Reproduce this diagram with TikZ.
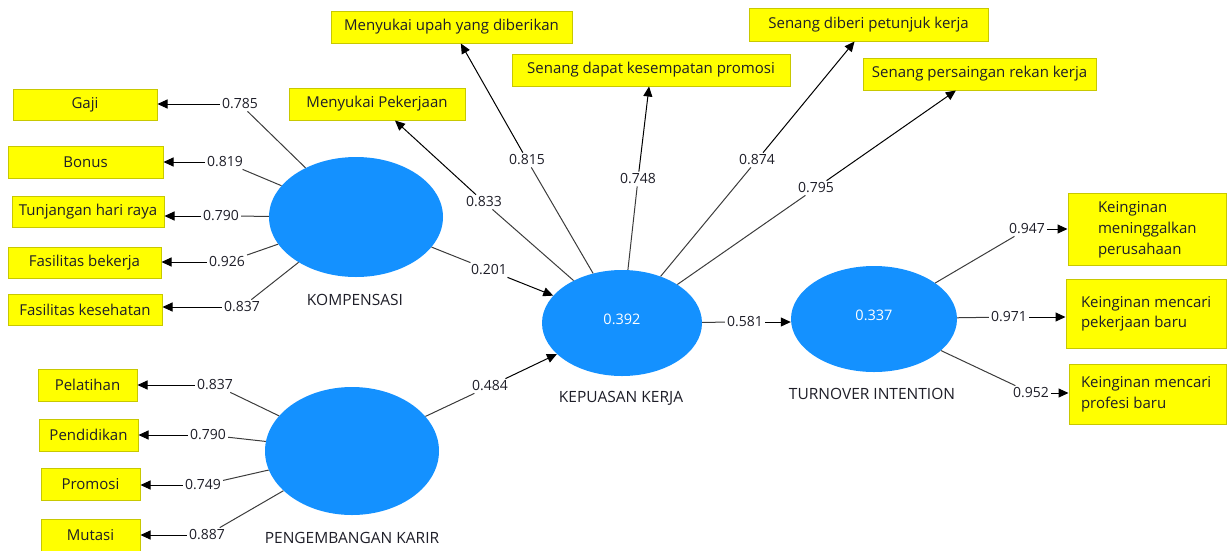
\documentclass[tikz,border=0pt]{standalone}
\usepackage{fontspec}
\setmainfont{Open Sans}
\usetikzlibrary{arrows.meta,shapes.geometric}
\definecolor{boxfill}{RGB}{255,255,0}
\definecolor{boxline}{RGB}{200,200,0}
\definecolor{lvfill}{RGB}{20,145,255}
\definecolor{linecol}{RGB}{60,60,60}
\definecolor{txtcol}{RGB}{30,30,40}
\tikzset{
  box/.style={draw=boxline, fill=boxfill, line width=1pt, inner sep=0pt, text=txtcol, font=\fontsize{15}{18}\selectfont},
  lv/.style={ellipse, fill=lvfill, draw=none, inner sep=0pt, text=white, font=\fontsize{14.5}{17}\selectfont},
  lvname/.style={inner sep=1pt, text=txtcol, font=\fontsize{15.5}{18}\selectfont},
  lab/.style={inner sep=2pt, text=txtcol, font=\fontsize{14}{17}\selectfont},
  ln/.style={draw=linecol, line width=1pt},
  arr/.style={draw=black, line width=1pt, -{Triangle[length=10pt,width=9pt]}}
}
\begin{document}
\begin{tikzpicture}[x=1pt,y=-1pt]
\useasboundingbox (0,0) rectangle (1227,550);
% indicator boxes
\node[box, minimum width=144, minimum height=31] (gaji) at (85,104.5) {Gaji};
\node[box, minimum width=155, minimum height=32] (bonus) at (85.5,162) {Bonus};
\node[box, minimum width=152, minimum height=31] (thr) at (88,211.5) {Tunjangan hari raya};
\node[box, minimum width=153, minimum height=31] (fasb) at (84.5,262.5) {Fasilitas bekerja};
\node[box, minimum width=154, minimum height=31] (fask) at (85,309.5) {Fasilitas kesehatan};
\node[box, minimum width=99, minimum height=32] (pel) at (87.5,385) {Pelatihan};
\node[box, minimum width=99, minimum height=32] (pend) at (88.5,435) {Pendidikan};
\node[box, minimum width=99, minimum height=32] (prom) at (90.5,484) {Promosi};
\node[box, minimum width=99, minimum height=32] (mut) at (90.5,535) {Mutasi};
\node[box, minimum width=176, minimum height=32] (mp) at (377,104) {Menyukai Pekerjaan};
\node[box, minimum width=241, minimum height=32] (mu) at (451.5,27) {Menyukai upah yang diberikan};
\node[box, minimum width=278, minimum height=32] (sdk) at (651,70) {Senang dapat kesempatan promosi};
\node[box, minimum width=239, minimum height=33] (sdp) at (868.5,24.5) {Senang diberi petunjuk kerja};
\node[box, minimum width=233, minimum height=32] (spr) at (979.5,74) {Senang persaingan rekan kerja};
\node[box, minimum width=158, minimum height=72, font=\fontsize{15}{21}\selectfont] (k1) at (1147,229)
  {\makebox[158pt][l]{\hspace*{30pt}\begin{tabular}{@{}l@{}}Keinginan\\meninggalkan\\perusahaan\end{tabular}}};
\node[box, minimum width=160, minimum height=69, font=\fontsize{15}{20}\selectfont] (k2) at (1146,313.5)
  {\makebox[160pt][l]{\hspace*{15pt}\begin{tabular}{@{}l@{}}Keinginan mencari\\pekerjaan baru\end{tabular}}};
\node[box, minimum width=157, minimum height=60, font=\fontsize{15}{21}\selectfont] (k3) at (1147.5,394)
  {\makebox[157pt][l]{\hspace*{12pt}\begin{tabular}{@{}l@{}}Keinginan mencari\\profesi baru\end{tabular}}};
% latent variables
\node[lv, minimum width=174, minimum height=120] (komp) at (356,217) {};
\node[lv, minimum width=174, minimum height=128] (peng) at (352,451) {};
\node[lv, minimum width=160, minimum height=106] (kep) at (622,323) {\raisebox{8pt}{0.392}};
\node[lv, minimum width=166, minimum height=106] (turn) at (874,319) {\raisebox{7pt}{0.337}};
\node[lvname] (kompn) at (355,300) {KOMPENSASI};
\node[lvname] (pengn) at (352,538) {PENGEMBANGAN KARIR};
\node[lvname] (kepn) at (621,398) {KEPUASAN KERJA};
\node[lvname] (turnn) at (872,394) {TURNOVER INTENTION};
% loading labels
\node[lab] (l1) at (240,104) {0.785};
\node[lab] (l2) at (225,162) {0.819};
\node[lab] (l3) at (221,216) {0.790};
\node[lab] (l4) at (227,262) {0.926};
\node[lab] (l5) at (242,307) {0.837};
\node[lab] (p1) at (215,385) {0.837};
\node[lab] (p2) at (208,435) {0.790};
\node[lab] (p3) at (203,485) {0.749};
\node[lab] (p4) at (207,535) {0.887};
\node[lab] (k833) at (484,202) {0.833};
\node[lab] (k815) at (527,160) {0.815};
\node[lab] (k748) at (638,179) {0.748};
\node[lab] (k874) at (757,160) {0.874};
\node[lab] (k795) at (816,188) {0.795};
\node[lab] (s201) at (489,270) {0.201};
\node[lab] (s484) at (490,386) {0.484};
\node[lab] (s581) at (745,322) {0.581};
\node[lab] (t947) at (1027,229) {0.947};
\node[lab] (t971) at (1009,317) {0.971};
\node[lab] (t952) at (1031,393) {0.952};
% KOMPENSASI indicators
\foreach \l/\b in {l1/gaji,l2/bonus,l3/thr,l4/fasb,l5/fask}{
  \draw[ln] (komp) -- (\l);
  \draw[arr] (\l) -- (\l -| \b.east);
}
% PENGEMBANGAN KARIR indicators
\foreach \l/\b in {p1/pel,p2/pend,p3/prom,p4/mut}{
  \draw[ln] (peng) -- (\l);
  \draw[arr] (\l) -- (\l -| \b.east);
}
% KEPUASAN KERJA indicators
\foreach \l/\b in {k833/mp,k815/mu,k748/sdk,k874/sdp,k795/spr}{
  \draw[ln] (kep) -- (\l);
  \draw[arr] (\l) -- (\b);
}
% TURNOVER INTENTION indicators
\foreach \l/\b in {t947/k1,t971/k2,t952/k3}{
  \draw[ln] (turn) -- (\l);
  \draw[arr] (\l) -- (\l -| \b.west);
}
% structural paths
\draw[ln] (komp) -- (s201);
\draw[arr] (s201) -- (kep);
\draw[ln] (peng) -- (s484);
\draw[arr] (s484) -- (kep);
\draw[ln] (kep) -- (s581);
\draw[arr] (s581) -- (s581 -| turn.west);
\end{tikzpicture}
\end{document}
